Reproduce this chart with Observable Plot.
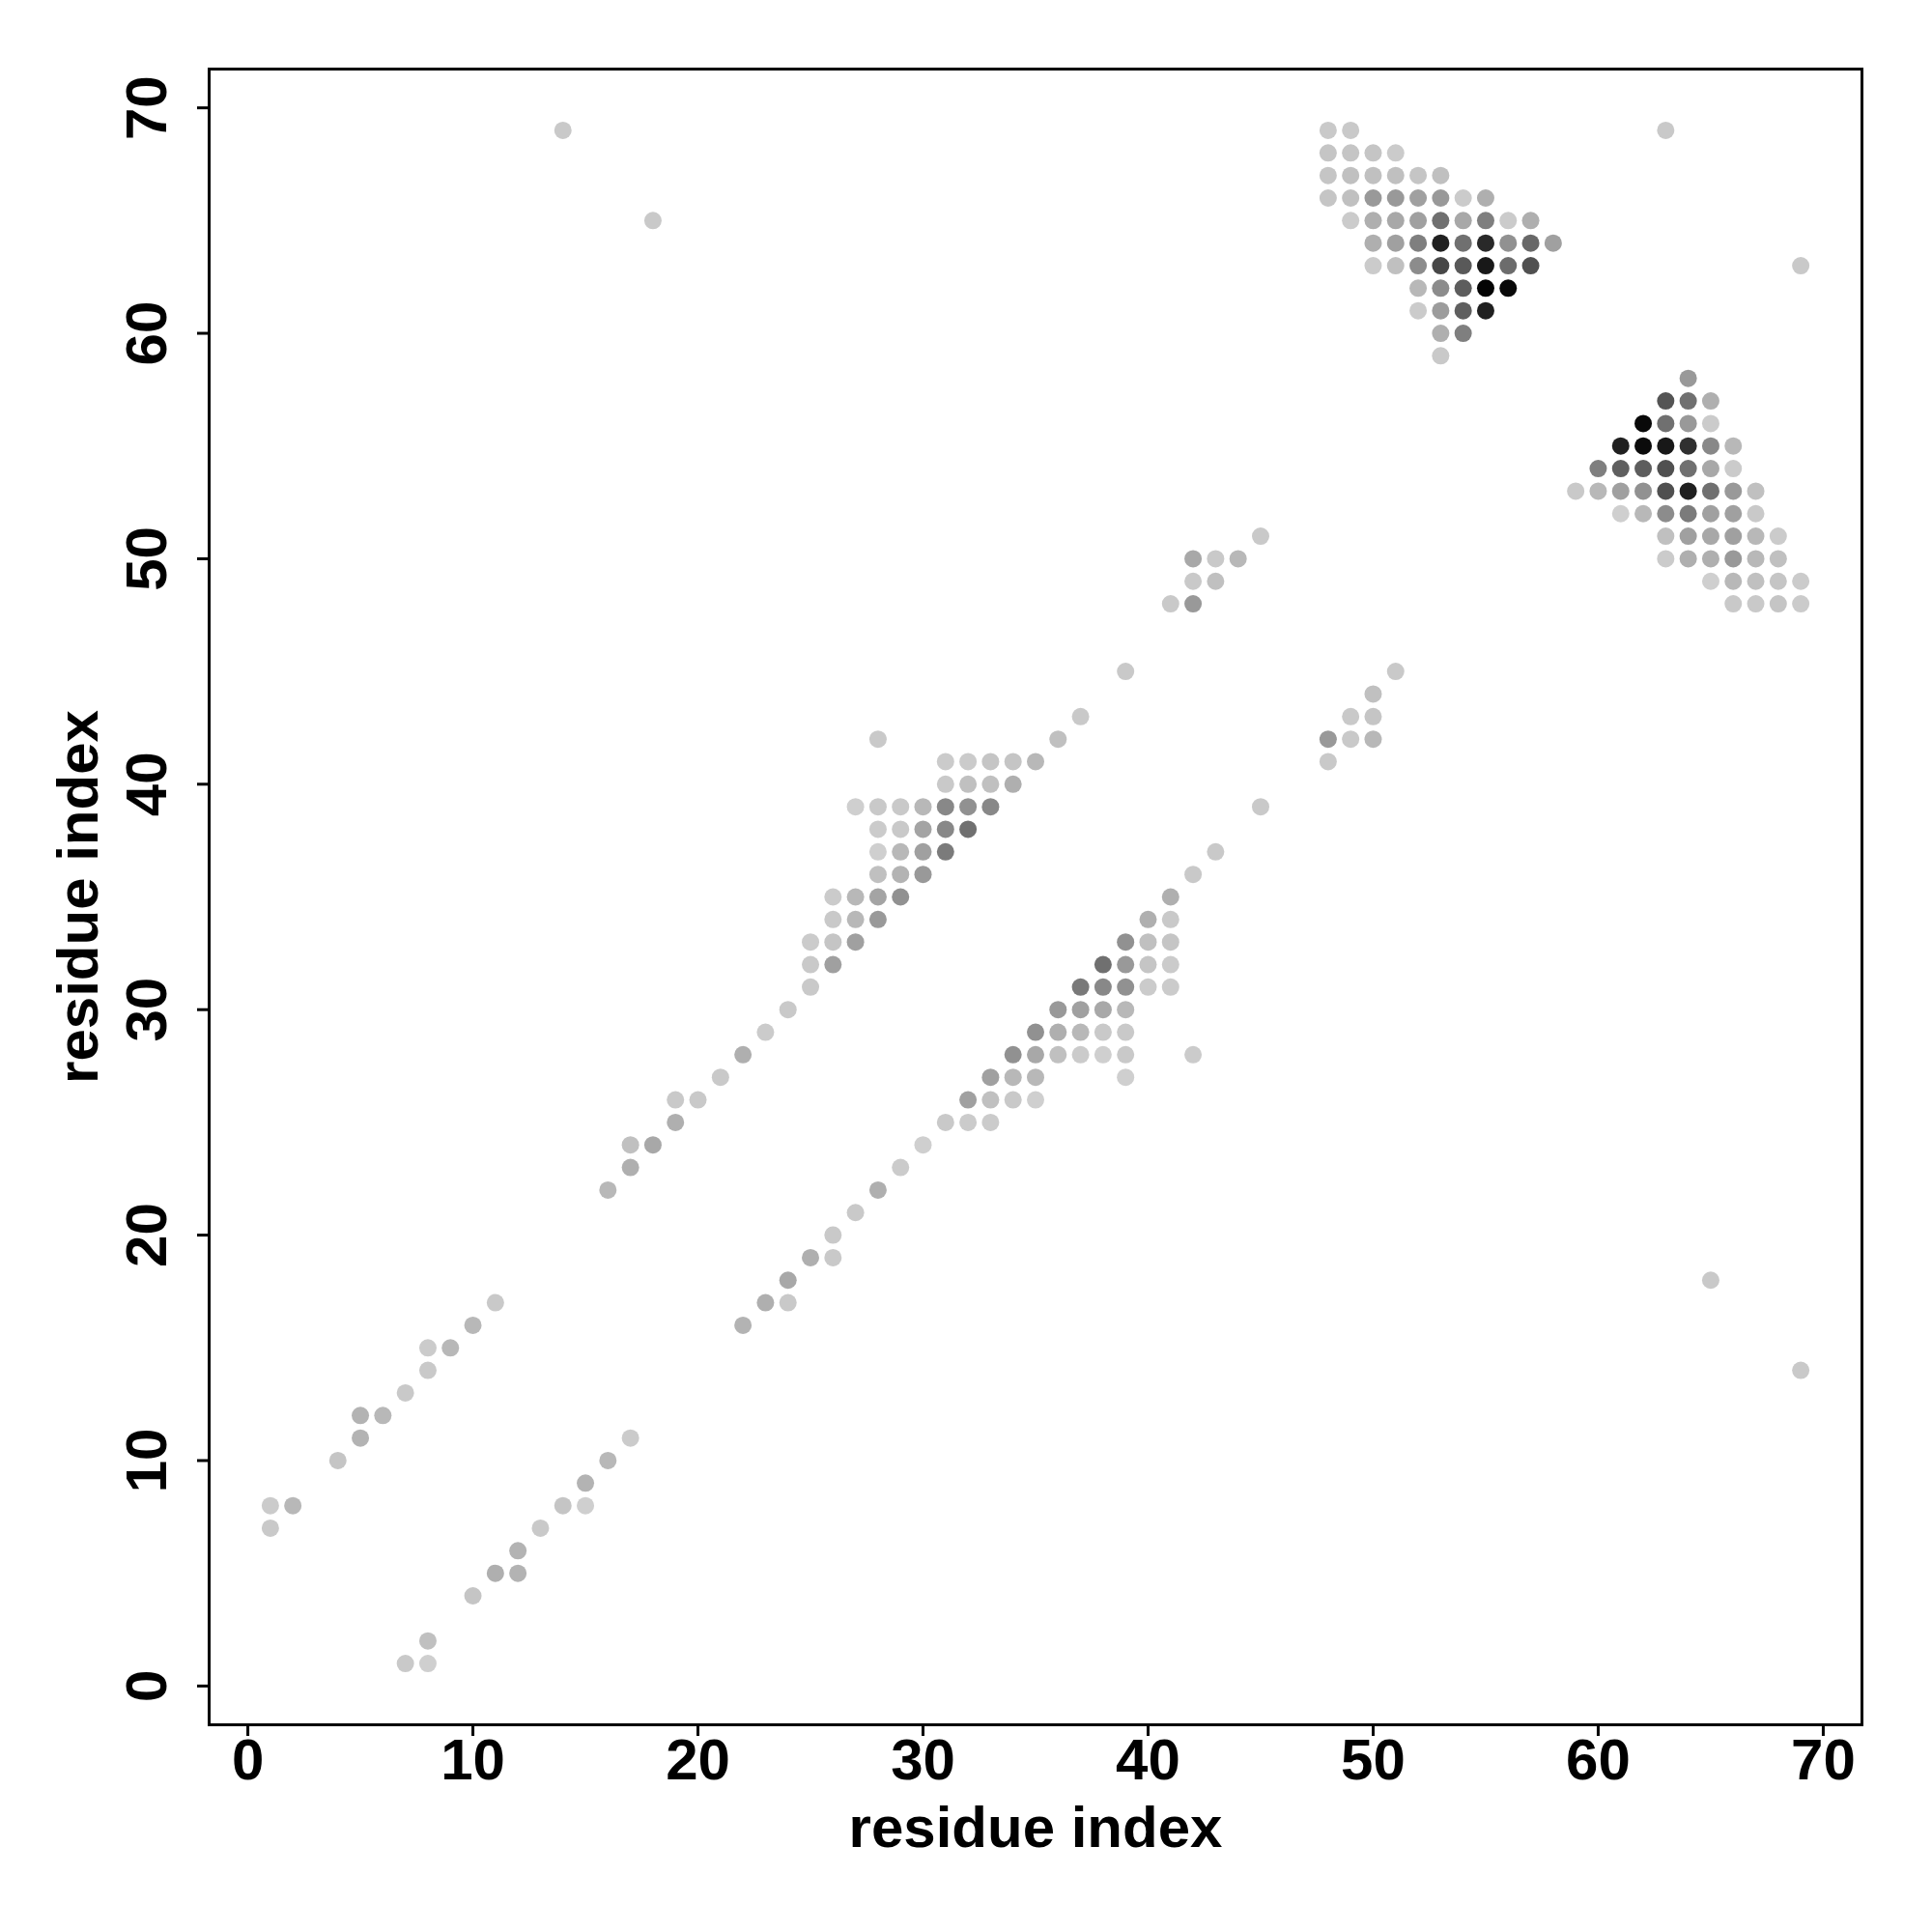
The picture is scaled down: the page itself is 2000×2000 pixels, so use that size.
<!DOCTYPE html>
<html>
<head>
<meta charset="utf-8">
<script src="https://cdn.jsdelivr.net/npm/d3@7"></script>
<script src="https://cdn.jsdelivr.net/npm/@observablehq/plot@0.6"></script>
<style>
  html, body { margin: 0; padding: 0; background: white; }
  #chart svg { display: block; }
</style>
</head>
<body>
<div id="chart"></div>
<script>
// Each entry: [residue i, residue j, contact probability]
const isolated = [[14,69,.07],[18,65,.07],[63,69,.07],[69,63,.07],[65,18,.07],[69,14,.07]];

const nTermUpper = [[1,7,.07],[1,8,.06],[2,8,.15],[4,10,.09],[5,11,.17],[5,12,.17],[6,12,.15],
  [7,13,.07],[8,14,.07],[8,15,.06],[9,15,.15],[10,16,.15],[11,17,.07]];
const nTermLower = [[7,1,.07],[8,1,.04],[8,2,.11],[10,4,.09],[11,5,.19],[12,5,.17],[12,6,.17],
  [13,7,.07],[14,8,.09],[15,8,.04],[15,9,.17],[16,10,.15],[17,11,.06]];

const midUpper = [[16,22,.15],[17,23,.19],[17,24,.11],[18,24,.22],[19,25,.19],[19,26,.07],[20,26,.07],
  [21,27,.07],[22,28,.19],[23,29,.06],[24,30,.07]];
const midLower = [[22,16,.17],[23,17,.19],[24,17,.07],[24,18,.22],[25,19,.19],[26,19,.07],[26,20,.07],
  [27,21,.07],[28,22,.19],[29,23,.06],[30,24,.04]];

const sheetUpper = [
  [25,31,.07],
  [25,32,.07],[26,32,.26],
  [25,33,.06],[26,33,.09],[27,33,.26],
  [26,34,.07],[27,34,.15],[28,34,.29],
  [26,35,.06],[27,35,.15],[28,35,.24],[29,35,.33],
  [28,36,.11],[29,36,.17],[30,36,.29],
  [28,37,.04],[29,37,.15],[30,37,.26],[31,37,.43],
  [28,38,.06],[29,38,.07],[30,38,.24],[31,38,.37],[32,38,.48],
  [27,39,.04],[28,39,.07],[29,39,.07],[30,39,.15],[31,39,.37],[32,39,.33],[33,39,.37],
  [31,40,.07],[32,40,.11],[33,40,.11],[34,40,.19],
  [31,41,.06],[32,41,.06],[33,41,.09],[34,41,.09],[35,41,.15],
  [28,42,.07],[36,42,.11],[37,43,.07],[39,45,.07],
  [41,48,.07],[42,48,.29],[42,49,.07],[43,49,.11],
  [42,50,.22],[43,50,.07],[44,50,.15],[45,51,.07]
];
const sheetLower = [
  [31,25,.07],[32,25,.06],[33,25,.06],
  [32,26,.26],[33,26,.11],[34,26,.07],[35,26,.04],
  [33,27,.26],[34,27,.15],[35,27,.15],[39,27,.04],
  [34,28,.33],[35,28,.22],[36,28,.11],[37,28,.06],[38,28,.04],[39,28,.07],[42,28,.06],
  [35,29,.33],[36,29,.19],[37,29,.15],[38,29,.07],[39,29,.07],
  [36,30,.29],[37,30,.26],[38,30,.22],[39,30,.15],
  [37,31,.44],[38,31,.37],[39,31,.33],[40,31,.06],[41,31,.06],
  [38,32,.48],[39,32,.29],[40,32,.09],[41,32,.06],
  [39,33,.33],[40,33,.11],[41,33,.09],
  [40,34,.19],[41,34,.07],[41,35,.19],[42,36,.07],[43,37,.07],[45,39,.07],
  [48,41,.07],[48,42,.29],[49,42,.07],[50,42,.15],[49,43,.07],[50,43,.09],[50,44,.11],[51,45,.07]
];

const cTermUpper = [
  [48,69,.07],[49,69,.07],
  [48,68,.09],[49,68,.09],[50,68,.09],[51,68,.06],
  [48,67,.09],[49,67,.11],[50,67,.11],[51,67,.11],[52,67,.09],[53,67,.11],
  [48,66,.09],[49,66,.11],[50,66,.29],[51,66,.29],[52,66,.26],[53,66,.29],[54,66,.06],[55,66,.19],
  [49,65,.06],[50,65,.19],[51,65,.22],[52,65,.26],[53,65,.48],[54,65,.22],[55,65,.41],[56,65,.06],[57,65,.19],
  [50,64,.19],[51,64,.26],[52,64,.41],[53,64,.85],[54,64,.48],[55,64,.81],[56,64,.33],[57,64,.52],[58,64,.26],
  [50,63,.06],[51,63,.11],[52,63,.35],[53,63,.67],[54,63,.59],[55,63,.89],[56,63,.50],[57,63,.63],
  [52,62,.15],[53,62,.35],[54,62,.57],[55,62,.98],[56,62,.96],
  [52,61,.06],[53,61,.28],[54,61,.56],[55,61,.85],
  [53,60,.19],[54,60,.41],
  [53,59,.07]
];
const cTermLower = [
  [64,58,.29],
  [63,57,.61],[64,57,.48],[65,57,.19],
  [62,56,.96],[63,56,.48],[64,56,.29],[65,56,.06],
  [61,55,.85],[62,55,.95],[63,55,.89],[64,55,.78],[65,55,.37],[66,55,.15],
  [60,54,.41],[61,54,.56],[62,54,.57],[63,54,.63],[64,54,.48],[65,54,.22],[66,54,.06],
  [59,53,.07],[60,53,.15],[61,53,.26],[62,53,.33],[63,53,.63],[64,53,.85],[65,53,.48],[66,53,.29],[67,53,.11],
  [61,52,.04],[62,52,.15],[63,52,.35],[64,52,.43],[65,52,.26],[66,52,.26],[67,52,.07],
  [63,51,.11],[64,51,.26],[65,51,.22],[66,51,.26],[67,51,.15],[68,51,.06],
  [63,50,.06],[64,50,.19],[65,50,.19],[66,50,.29],[67,50,.15],[68,50,.11],
  [65,49,.04],[66,49,.15],[67,49,.11],[68,49,.09],[69,49,.06],
  [66,48,.07],[67,48,.07],[68,48,.09],[69,48,.06]
];

const xTicks = [0, 10, 20, 30, 40, 50, 60, 70];
const yTicks = [0, 10, 20, 30, 40, 50, 60, 70];
const xLabel = "residue index";
const yLabel = "residue index";

const contacts = [].concat(isolated, nTermUpper, nTermLower, midUpper, midLower,
  sheetUpper, sheetLower, cTermUpper, cTermLower)
  .map(([i, j, p]) => ({i, j, p}));

// R-style 4% padding around data range [1, 69]
const lo = 1 - 0.04 * 68, hi = 69 + 0.04 * 68;

const chart = Plot.plot({
  width: 2000,
  height: 2000,
  marginLeft: 216,
  marginRight: 73,
  marginTop: 71,
  marginBottom: 215,
  style: {fontFamily: "'Liberation Sans', Arial, Helvetica, sans-serif", fontSize: "60px", fontWeight: "bold", background: "white"},
  x: {domain: [lo, hi], label: null},
  y: {domain: [lo, hi], label: null},
  color: {type: "linear", domain: [0, 1], range: ["#d8d8d8", "#000000"]},
  marks: [
    Plot.dot(contacts, {x: "i", y: "j", fill: "p", r: 9, stroke: "none"}),
    Plot.axisX({ticks: xTicks, tickSize: 12, strokeWidth: 3, tickFormat: () => "", label: null}),
    Plot.axisY({ticks: yTicks, tickSize: 12, strokeWidth: 3, tickFormat: () => "", label: null}),
    Plot.text(xTicks, {x: d => d, text: d => String(d), frameAnchor: "bottom", dy: 56, lineAnchor: "bottom", fill: "black"}),
    Plot.text(yTicks, {y: d => d, text: d => String(d), frameAnchor: "left", dx: -45, rotate: -90, textAnchor: "middle", lineAnchor: "bottom", fill: "black"}),
    Plot.text([xLabel], {text: d => d, frameAnchor: "bottom", dy: 126, lineAnchor: "bottom", fill: "black"}),
    Plot.text([yLabel], {text: d => d, frameAnchor: "left", dx: -116, rotate: -90, textAnchor: "middle", lineAnchor: "bottom", fill: "black"}),
    Plot.frame({stroke: "black", strokeWidth: 3})
  ]
});
document.getElementById("chart").appendChild(chart);
</script>
</body>
</html>
